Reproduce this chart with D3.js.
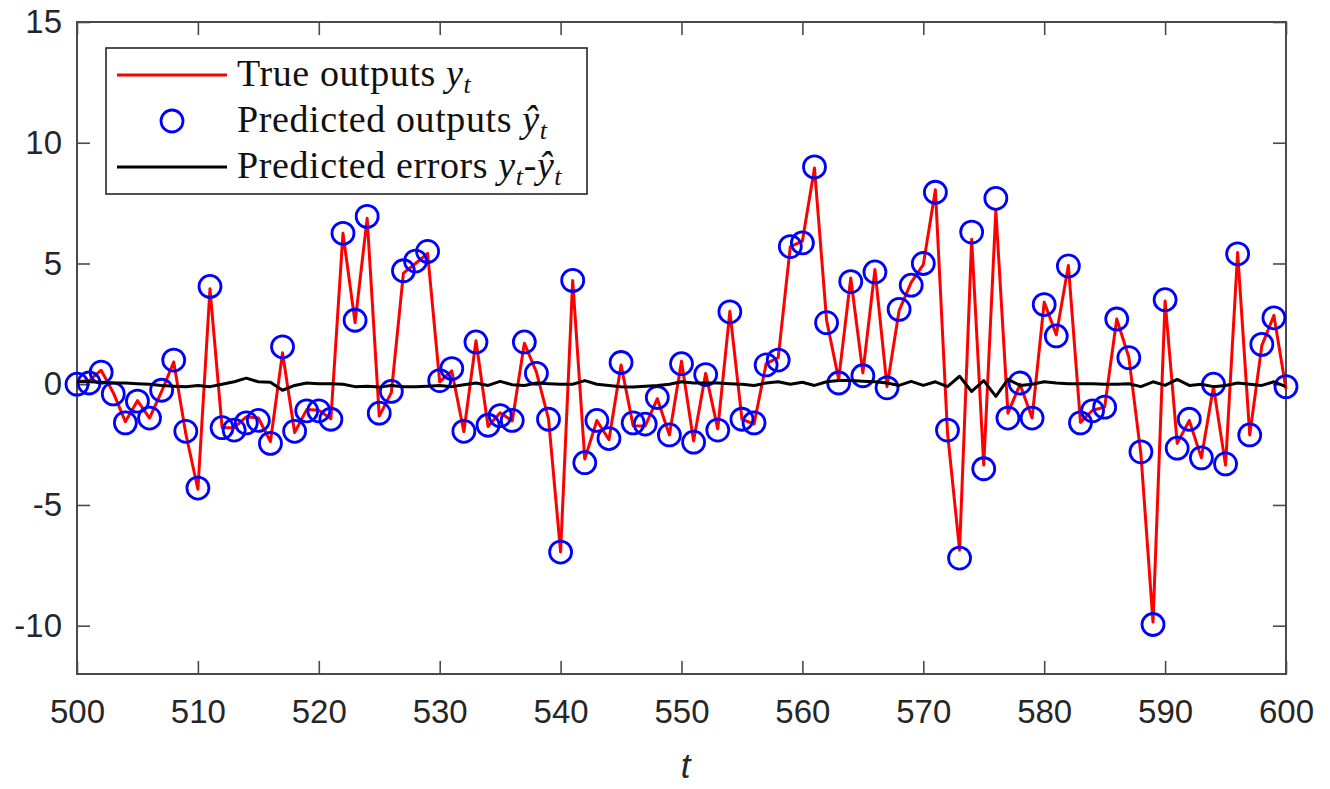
<!DOCTYPE html>
<html>
<head>
<meta charset="utf-8">
<script src="https://cdn.jsdelivr.net/npm/d3@7"></script>
<style>
  body { margin: 0; background: #fff; }
  svg { display: block; }
  .tick text { font-family: "Liberation Sans", Arial, sans-serif; font-size: 33px; fill: #262626; }
  .legend text { font-family: "Liberation Serif", "Times New Roman", serif; font-size: 38px; fill: #111; }
</style>
</head>
<body>
<script>
// time steps
let tSteps = d3.range(500, 601);

// predicted outputs (blue circles)
let predicted = [
  0.00, 0.05, 0.50, -0.40, -1.60, -0.70, -1.40, -0.25, 1.00, -1.95,
  -4.30, 4.05, -1.80, -1.90, -1.60, -1.50, -2.45, 1.55, -1.95, -1.10,
  -1.10, -1.45, 6.25, 2.65, 6.95, -1.20, -0.30, 4.70, 5.10, 5.50,
  0.15, 0.65, -1.95, 1.75, -1.70, -1.30, -1.50, 1.75, 0.45, -1.45,
  -6.95, 4.30, -3.25, -1.50, -2.25, 0.90, -1.60, -1.65, -0.55, -2.10,
  0.85, -2.40, 0.40, -1.90, 3.00, -1.45, -1.60, 0.80, 1.00, 5.70,
  5.85, 9.00, 2.55, 0.05, 4.25, 0.35, 4.65, -0.15, 3.10, 4.10,
  5.00, 7.95, -1.90, -7.20, 6.30, -3.50, 7.70, -1.40, 0.05, -1.40,
  3.30, 2.00, 4.90, -1.60, -1.10, -0.95, 2.70, 1.10, -2.80, -9.95,
  3.50, -2.65, -1.45, -3.05, 0.00, -3.30, 5.40, -2.10, 1.65, 2.75,
  -0.10
];

// true outputs (red line)
let trueOutputs = [
  0.10, 0.15, 0.58, -0.35, -1.55, -0.68, -1.40, -0.30, 0.92, -2.05,
  -4.35, 3.95, -1.80, -1.80, -1.35, -1.40, -2.37, 1.30, -2.00, -1.05,
  -1.08, -1.43, 6.25, 2.55, 6.87, -1.32, -0.35, 4.60, 5.00, 5.42,
  0.10, 0.55, -1.97, 1.80, -1.75, -1.18, -1.52, 1.70, 0.50, -1.43,
  -6.95, 4.30, -3.10, -1.50, -2.30, 0.80, -1.72, -1.73, -0.60, -2.10,
  0.95, -2.35, 0.45, -1.85, 3.02, -1.45, -1.65, 0.85, 1.10, 5.70,
  5.93, 8.95, 2.65, 0.20, 4.40, 0.47, 4.75, -0.10, 3.05, 4.22,
  4.95, 8.05, -2.00, -6.87, 6.00, -3.35, 7.20, -1.20, 0.00, -1.40,
  3.40, 2.05, 4.92, -1.58, -1.08, -0.95, 2.70, 1.12, -2.90, -9.85,
  3.45, -2.45, -1.50, -3.05, -0.10, -3.35, 5.45, -2.10, 1.60, 2.85,
  -0.20
];

// prediction errors (black line)
let errors = [
  0.10, 0.10, 0.08, 0.05, 0.05, 0.02, 0.00, -0.05, -0.08, -0.10,
  -0.05, -0.10, 0.00, 0.10, 0.25, 0.10, 0.08, -0.25, -0.05, 0.05,
  0.02, 0.02, 0.00, -0.10, -0.08, -0.12, -0.05, -0.10, -0.10, -0.08,
  -0.05, -0.10, -0.02, 0.05, -0.05, 0.12, -0.02, -0.05, 0.05, 0.02,
  0.00, 0.00, 0.15, 0.00, -0.05, -0.10, -0.12, -0.08, -0.05, 0.00,
  0.10, 0.05, 0.05, 0.05, 0.02, 0.00, -0.05, 0.05, 0.10, 0.00,
  0.08, -0.05, 0.10, 0.15, 0.15, 0.12, 0.10, 0.05, -0.05, 0.12,
  -0.05, 0.10, -0.10, 0.33, -0.30, 0.15, -0.50, 0.20, -0.05, 0.00,
  0.10, 0.05, 0.02, 0.02, 0.02, 0.00, 0.00, 0.02, -0.10, 0.10,
  -0.05, 0.20, -0.05, 0.00, -0.10, -0.05, 0.05, 0.00, -0.05, 0.10,
  -0.10
];

let xTicks = d3.range(500, 601, 10);
let yTicks = [-10, -5, 0, 5, 10, 15];

let legendLabels = [
  { kind: "line", color: "#ff0000", parts: [["True outputs ", false], ["y", true], ["t", true, "sub"]] },
  { kind: "circle", color: "#0000ff", parts: [["Predicted outputs ", false], ["\u0177", true], ["t", true, "sub"]] },
  { kind: "line", color: "#000000", parts: [["Predicted errors ", false], ["y", true], ["t", true, "sub"], ["-", false], ["\u0177", true], ["t", true, "sub"]] }
];

// dimensions
let width = 1330;
let height = 789;
let padL = 77, padR = 1286, padT = 22, padB = 674;

let x = d3.scaleLinear().domain([500, 600]).range([padL, padR]);
let y = d3.scaleLinear().domain([-12, 15]).range([padB, padT]);

let svg = d3.select("body").append("svg")
  .attr("width", width)
  .attr("height", height);

let axisColor = "#4a4a4a";

// axes, ticks point inward (matlab style)
let gx = svg.append("g")
  .attr("transform", "translate(0," + padB + ")")
  .call(d3.axisBottom(x).tickValues(xTicks).tickSizeInner(-13).tickSizeOuter(0).tickPadding(26));
let gxTop = svg.append("g")
  .attr("transform", "translate(0," + padT + ")")
  .call(d3.axisTop(x).tickValues(xTicks).tickSizeInner(-13).tickSizeOuter(0).tickFormat(""));
let gy = svg.append("g")
  .attr("transform", "translate(" + padL + ",0)")
  .call(d3.axisLeft(y).tickValues(yTicks).tickSizeInner(-13).tickSizeOuter(0).tickPadding(15)
    .tickFormat(d => String(d)));
let gyRight = svg.append("g")
  .attr("transform", "translate(" + padR + ",0)")
  .call(d3.axisRight(y).tickValues(yTicks).tickSizeInner(-13).tickSizeOuter(0).tickFormat(""));

[gx, gxTop, gy, gyRight].forEach(g => {
  g.select(".domain").remove();
  g.selectAll(".tick line").attr("stroke", axisColor).attr("stroke-width", 1.6);
});

// box
svg.append("rect")
  .attr("x", padL).attr("y", padT)
  .attr("width", padR - padL).attr("height", padB - padT)
  .attr("fill", "none")
  .attr("stroke", axisColor)
  .attr("stroke-width", 2);

let plot = svg.append("g");

let seriesLine = d3.line()
  .x((d, i) => x(tSteps[i]))
  .y(d => y(d));

plot.append("path")
  .datum(trueOutputs)
  .attr("d", seriesLine)
  .attr("fill", "none")
  .attr("stroke", "#ff0000")
  .attr("stroke-width", 3)
  .attr("stroke-linejoin", "round");

plot.selectAll(".pred")
  .data(predicted)
  .enter().append("circle")
  .attr("class", "pred")
  .attr("cx", (d, i) => x(tSteps[i]))
  .attr("cy", d => y(d))
  .attr("r", 11)
  .attr("fill", "none")
  .attr("stroke", "#0000ff")
  .attr("stroke-width", 2.8);

plot.append("path")
  .datum(errors)
  .attr("d", seriesLine)
  .attr("fill", "none")
  .attr("stroke", "#000")
  .attr("stroke-width", 3)
  .attr("stroke-linejoin", "round");

// x label
svg.append("text")
  .attr("x", x(550) + 4)
  .attr("y", 778)
  .attr("text-anchor", "middle")
  .style("font-family", "'Liberation Sans', Arial, sans-serif")
  .style("font-style", "italic")
  .style("font-size", "35px")
  .style("fill", "#262626")
  .text("t");

// legend
let legend = svg.append("g").attr("class", "legend");
legend.append("rect")
  .attr("x", 106).attr("y", 48)
  .attr("width", 481).attr("height", 146)
  .attr("fill", "#fff")
  .attr("stroke", "#262626")
  .attr("stroke-width", 1.6);

let rowY = [75, 121, 167];
legendLabels.forEach((item, i) => {
  let cy = rowY[i];
  if (item.kind === "line") {
    legend.append("line")
      .attr("x1", 117).attr("x2", 227)
      .attr("y1", cy).attr("y2", cy)
      .attr("stroke", item.color)
      .attr("stroke-width", 3);
  } else {
    legend.append("circle")
      .attr("cx", 172).attr("cy", cy)
      .attr("r", 11)
      .attr("fill", "none")
      .attr("stroke", item.color)
      .attr("stroke-width", 2.8);
  }
  let txt = legend.append("text")
    .attr("x", 237)
    .attr("y", cy + 11)
    .style("letter-spacing", "0.6px");
  let lowered = false;
  item.parts.forEach(p => {
    let ts = txt.append("tspan").text(p[0]);
    if (p[1]) ts.style("font-style", "italic");
    if (p[2] === "sub") {
      ts.attr("dy", 7).style("font-size", "26px");
      lowered = true;
    } else if (lowered) {
      ts.attr("dy", -7);
      lowered = false;
    }
  });
});
</script>
</body>
</html>
